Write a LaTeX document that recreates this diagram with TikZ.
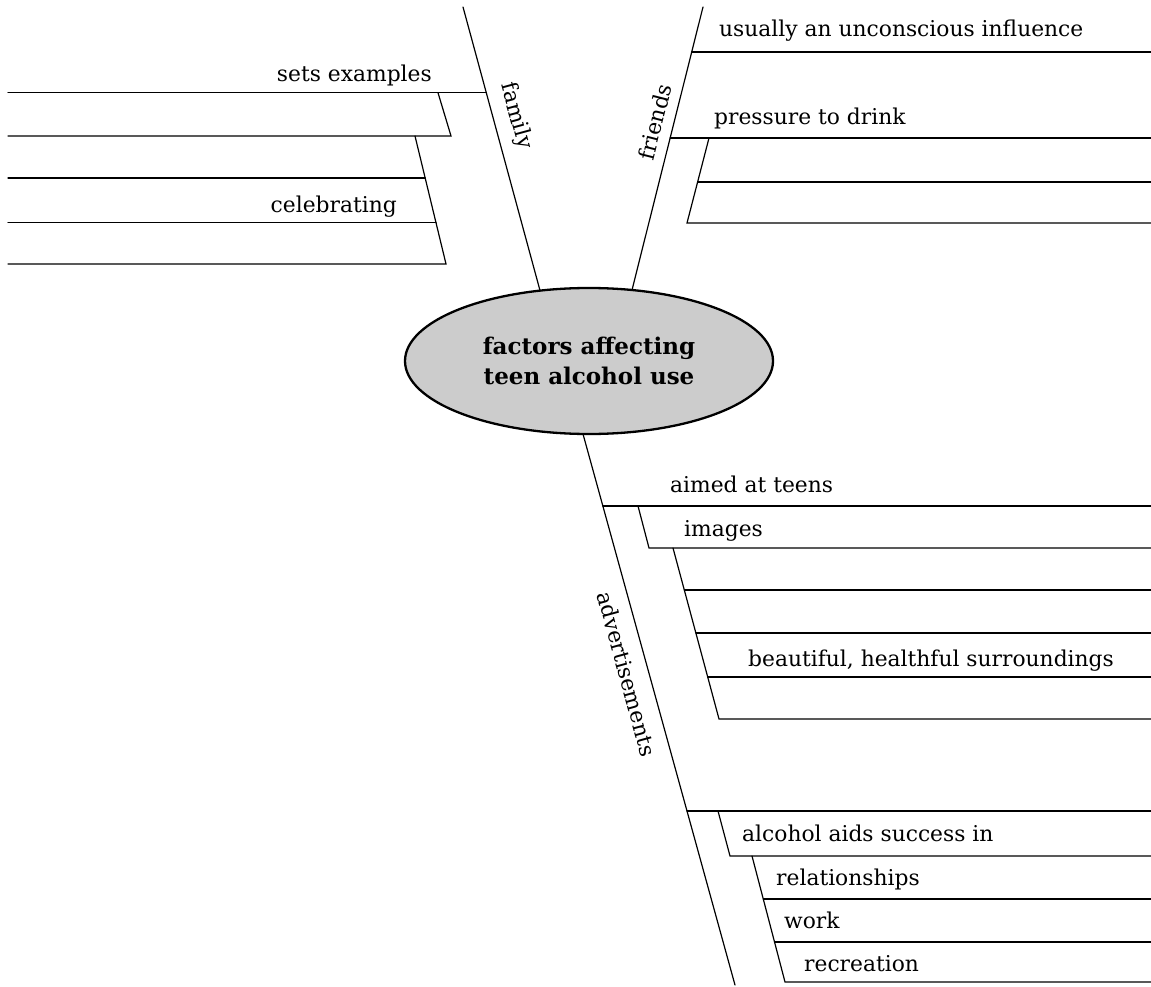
\documentclass[tikz,border=0pt]{standalone}
\usepackage{fontspec}
\setmainfont{DejaVu Serif}
\usetikzlibrary{shapes.geometric}
\begin{document}
\begin{tikzpicture}[x=1pt,y=-1pt,
  ln/.style={line width=1.2pt, line cap=round},
  lbl/.style={inner sep=0pt, font=\fontsize{21.8}{24}\selectfont},
  lblw/.style={lbl, anchor=base west},
  lble/.style={lbl, anchor=base east},
  central/.style={ellipse, draw, line width=2.3pt, fill=black!20,
    minimum width=368pt, minimum height=146pt, inner sep=0pt, align=center,
    font=\bfseries\fontsize{23}{30}\selectfont}]
\useasboundingbox (0,0) rectangle (1151,987);

% central ellipse
\node[central] (ell) at (589,361) {factors affecting\\teen alcohol use};

% main branch coordinates
\coordinate (famtop) at (463,7);
\coordinate (famend) at (540,290.5);
\coordinate (fritop) at (703,7);
\coordinate (friend) at (632,290);
\coordinate (advstart) at (583,434);
\coordinate (advend) at (735,985);

\draw[ln] (famtop) -- (famend);
\draw[ln] (fritop) -- (friend);
\draw[ln] (advstart) -- (advend);

\node[lbl, rotate=-74.8] (famlbl) at (516,116) {family};
\node[lbl, rotate=75.9] (frilbl) at (655,122) {friends};
\node[lbl, rotate=-74.6] (advlbl) at (627,674) {advertisements};

% ---- family side ----
\coordinate (fa1) at (486.3,92.7);  \coordinate (fa1l) at (8,92.7);
\coordinate (fbA) at (438,92.7);    \coordinate (fa2) at (451,136);
\coordinate (fa2l) at (8,136);
\coordinate (fbB) at (415,136);
\coordinate (fa3) at (425.2,178);   \coordinate (fa3l) at (8,178);
\coordinate (fa4) at (436,222.7);   \coordinate (fa4l) at (8,222.7);
\coordinate (fa5) at (446,264);     \coordinate (fa5l) at (8,264);

\draw[ln] (fa1) -- (fa1l);
\draw[ln] (fbA) -- (fa2) -- (fa2l);
\draw[ln] (fbB) -- (fa5) -- (fa5l);
\draw[ln] (fa3) -- (fa3l);
\draw[ln] (fa4) -- (fa4l);

\node[lble] (t1) at (432,82) {sets examples};
\node[lble] (t2) at (397,212) {celebrating};

% ---- friends side ----
\coordinate (fr1) at (691.7,52);  \coordinate (fr1r) at (1151,52);
\coordinate (fr2) at (670.1,138); \coordinate (fr2r) at (1151,138);
\coordinate (frB) at (709,138);
\coordinate (fr3) at (697.6,182); \coordinate (fr3r) at (1151,182);
\coordinate (fr4) at (687,223);   \coordinate (fr4r) at (1151,223);

\draw[ln] (fr1) -- (fr1r);
\draw[ln] (fr2) -- (fr2r);
\draw[ln] (frB) -- (fr4) -- (fr4r);
\draw[ln] (fr3) -- (fr3r);

\node[lblw] (t3) at (719,37) {usually an unconscious influence};
\node[lblw] (t4) at (714,125) {pressure to drink};

% ---- advertisements side ----
\coordinate (ad1) at (602.9,506);  \coordinate (ad1r) at (1151,506);
\coordinate (adB1) at (638,506);   \coordinate (ad2) at (649,548);
\coordinate (ad2r) at (1151,548);
\coordinate (adB2) at (673,548);
\coordinate (ad3) at (684.3,590);  \coordinate (ad3r) at (1151,590);
\coordinate (ad4) at (695.9,633);  \coordinate (ad4r) at (1151,633);
\coordinate (ad5) at (707.7,677);  \coordinate (ad5r) at (1151,677);
\coordinate (ad6) at (719,719);    \coordinate (ad6r) at (1151,719);
\coordinate (ad7) at (687,811);    \coordinate (ad7r) at (1151,811);
\coordinate (adB3) at (718,811);   \coordinate (ad8) at (730,856);
\coordinate (ad8r) at (1151,856);
\coordinate (adB4) at (752,856);
\coordinate (ad9) at (763.3,899);  \coordinate (ad9r) at (1151,899);
\coordinate (ad10) at (774.5,942); \coordinate (ad10r) at (1151,942);
\coordinate (ad11) at (785,982);   \coordinate (ad11r) at (1151,982);

\draw[ln] (ad1) -- (ad1r);
\draw[ln] (adB1) -- (ad2) -- (ad2r);
\draw[ln] (adB2) -- (ad6) -- (ad6r);
\draw[ln] (ad3) -- (ad3r);
\draw[ln] (ad4) -- (ad4r);
\draw[ln] (ad5) -- (ad5r);
\draw[ln] (ad7) -- (ad7r);
\draw[ln] (adB3) -- (ad8) -- (ad8r);
\draw[ln] (adB4) -- (ad11) -- (ad11r);
\draw[ln] (ad9) -- (ad9r);
\draw[ln] (ad10) -- (ad10r);

\node[lblw] (t5) at (670,492) {aimed at teens};
\node[lblw] (t6) at (684,536) {images};
\node[lblw] (t7) at (748,666.5) {beautiful, healthful surroundings};
\node[lblw] (t8) at (742,841.5) {alcohol aids success in};
\node[lblw] (t9) at (776,885) {relationships};
\node[lblw] (t10) at (784,928.3) {work};
\node[lblw] (t11) at (804,971.7) {recreation};
\end{tikzpicture}
\end{document}
